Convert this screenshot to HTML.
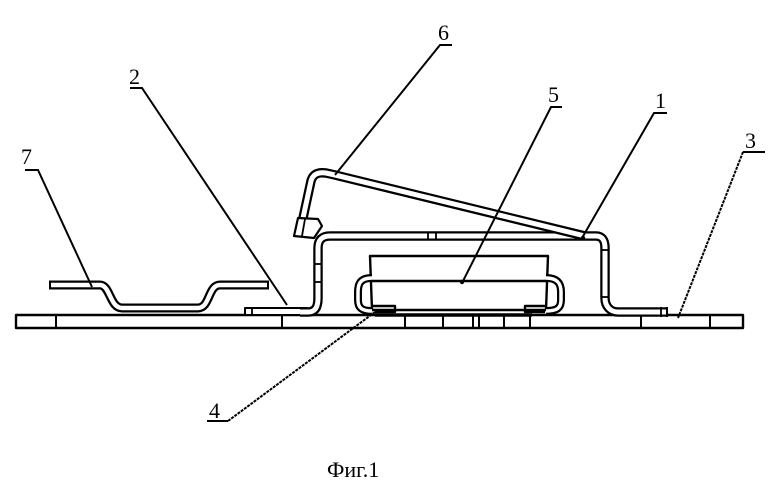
<!DOCTYPE html>
<html><head><meta charset="utf-8"><style>
html,body{margin:0;padding:0;background:#fff}
svg{display:block}
text{font-family:"Liberation Serif",serif;fill:#000}
</style></head><body>
<svg width="780" height="491" viewBox="0 0 780 491" xmlns="http://www.w3.org/2000/svg">
<g fill="none" stroke-linejoin="round" stroke-linecap="butt">
<!-- base plate 3 -->
<rect x="16" y="315" width="727" height="13" stroke="#000" stroke-width="2.4" fill="#fff"/>
<g stroke="#000" stroke-width="2">
<line x1="56" y1="315" x2="56" y2="328"/>
<line x1="282" y1="315" x2="282" y2="328"/>
<line x1="405" y1="315" x2="405" y2="328"/>
<line x1="443" y1="315" x2="443" y2="328"/>
<line x1="473" y1="315" x2="473" y2="328"/>
<line x1="479" y1="315" x2="479" y2="328"/>
<line x1="504" y1="315" x2="504" y2="328"/>
<line x1="530" y1="315" x2="530" y2="328"/>
<line x1="641" y1="315" x2="641" y2="328"/>
<line x1="710" y1="315" x2="710" y2="328"/>
</g>
<line x1="375" y1="315" x2="532" y2="315" stroke="#000" stroke-width="3.5"/>

<!-- part 7 -->
<path id="p7" d="M50 285 L100 285 C110 285 110 308 122 308 L198 308 C210 308 208 285 220 285 L268 285"/>
<use href="#p7" stroke="#000" stroke-width="9"/>
<use href="#p7" stroke="#fff" stroke-width="4.5"/>
<line x1="50" y1="280.5" x2="50" y2="289.5" stroke="#000" stroke-width="2"/>
<line x1="268" y1="280.5" x2="268" y2="289.5" stroke="#000" stroke-width="2"/>

<!-- part 2 plate -->
<rect x="245" y="308" width="62" height="7" stroke="#000" stroke-width="2" fill="#fff"/>
<line x1="252" y1="308" x2="252" y2="315" stroke="#000" stroke-width="1.8"/>

<!-- frame 1 -->
<path id="p1" d="M300 312 L308 312 C316 312 318 306 318 298 L318 248 C318 240 322 236 330 236 L596 236 C602 236 605 240 605 248 L605 298 C605 306 610 312 618 312 L667 312"/>
<use href="#p1" stroke="#000" stroke-width="9.5"/>
<use href="#p1" stroke="#fff" stroke-width="5"/>
<line x1="661" y1="307" x2="661" y2="317" stroke="#000" stroke-width="1.8"/>
<line x1="667" y1="307" x2="667" y2="317" stroke="#000" stroke-width="2"/>
<g stroke="#000" stroke-width="1.8">
<line x1="315" y1="264" x2="322" y2="264"/><line x1="315" y1="282" x2="322" y2="282"/>
<line x1="602" y1="250" x2="609" y2="250"/><line x1="602" y1="297" x2="609" y2="297"/>
<line x1="428" y1="232" x2="428" y2="240"/><line x1="436" y1="232" x2="436" y2="240"/>
</g>

<!-- lever 6 -->
<path id="p6" d="M300 232 L311 181 C313 174 318 172 326 173 L335 175 L585 236"/>
<use href="#p6" stroke="#000" stroke-width="9.5"/>
<use href="#p6" stroke="#fff" stroke-width="5"/>
<path d="M294 236 L298 218 L318 219 L322 226 L314 238 Z" stroke="#000" stroke-width="2.2" fill="#fff"/>
<line x1="305" y1="219" x2="302" y2="236" stroke="#000" stroke-width="1.8"/>

<!-- component 5 -->
<path d="M370 256 L548 256 L546 310 L372 310 Z" stroke="#000" stroke-width="2.4" fill="#fff"/>
<line x1="370" y1="281" x2="548" y2="281" stroke="#000" stroke-width="2.4"/>
<path d="M373 306 L395 306 L395 312 L375 312 M547 306 L525 306 L525 312 L545 312" stroke="#000" stroke-width="2.4"/>
<!-- clips 4 -->
<path id="c1" d="M372 278 C360 278 358 284 358 292 L358 300 C358 308 362 311 372 311"/>
<use href="#c1" stroke="#000" stroke-width="8"/>
<use href="#c1" stroke="#fff" stroke-width="3.5"/>
<path id="c2" d="M546 278 C558 278 561 284 561 292 L561 300 C561 308 557 311 546 311"/>
<use href="#c2" stroke="#000" stroke-width="8"/>
<use href="#c2" stroke="#fff" stroke-width="3.5"/>
</g>

<!-- leaders -->
<g stroke="#000" stroke-width="2" fill="none">
<path d="M25 170 L38 170 L92 287"/>
<path d="M130 88 L142 88 L287 305"/>
<path d="M452 45 L440 45 L335 175"/>
<path d="M562 107 L551 107 L462 283"/>
<path d="M667 113 L654 113 L582 238"/>
<path d="M765 152 L743 152"/>
<path d="M743 152 L678 318" stroke-dasharray="3 1"/>
<path d="M207 421 L228 421"/>
<path d="M228 421 L375 312" stroke-dasharray="3 1"/>
</g>
<circle cx="462" cy="282" r="2.2" fill="#000"/>
<circle cx="583" cy="238" r="2.2" fill="#000"/>

<g font-size="22">
<text x="21" y="164">7</text>
<text x="129" y="84">2</text>
<text x="438" y="40">6</text>
<text x="548" y="102">5</text>
<text x="655" y="108">1</text>
<text x="745" y="148">3</text>
<text x="209" y="418">4</text>
</g>
<text x="327" y="477" font-size="22">Фиг.1</text>
</svg>
</body></html>
